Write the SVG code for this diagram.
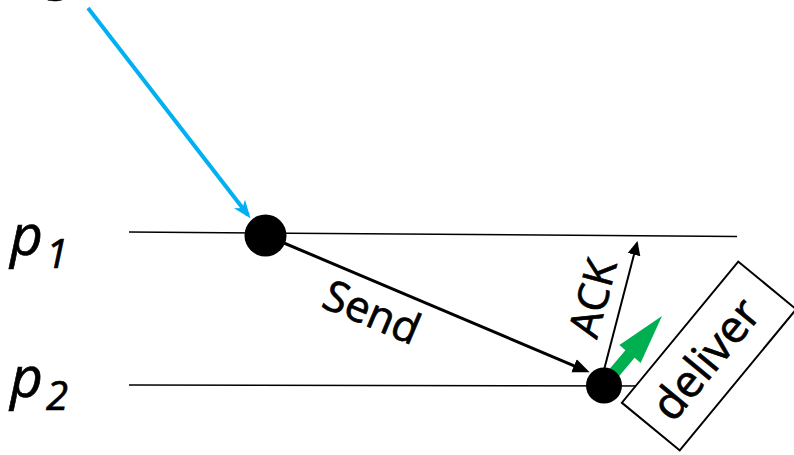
<svg xmlns="http://www.w3.org/2000/svg" width="794" height="455" viewBox="0 0 794 455">
<style>
  text { font-family: "Open Sans", "Liberation Sans", sans-serif; fill: #000; stroke: #000; stroke-width: 0.7; }
  .proc { font-style: italic; font-size: 57px; }
  .sub { font-style: italic; font-size: 40px; }
  .lbl { font-size: 43px; }
  .timeline { stroke: #000; stroke-width: 1.6; fill: none; }
  .event { fill: #000; }
</style>
<defs>
  <marker id="blueHead" markerUnits="userSpaceOnUse" markerWidth="20" markerHeight="16" viewBox="0 0 20 16" refX="14" refY="8" orient="auto">
    <path d="M0,1 L18,8 L0,15 L5,8 z" fill="#00B0F0"/>
  </marker>
  <marker id="sendHead" markerUnits="userSpaceOnUse" markerWidth="18" markerHeight="16" viewBox="0 0 18 16" refX="13" refY="8" orient="auto">
    <path d="M0,1 L17,8 L0,15 z" fill="#000"/>
  </marker>
  <marker id="ackHead" markerUnits="userSpaceOnUse" markerWidth="16" markerHeight="14" viewBox="0 0 16 14" refX="12" refY="7" orient="auto">
    <path d="M0,0.5 L14,7 L0,13.5 z" fill="#000"/>
  </marker>
</defs>

<g id="top-label">
  <text class="proc" x="45" y="-13">g</text>
</g>

<g id="p1">
  <line class="timeline" x1="129" y1="232" x2="737" y2="236.5"/>
  <text class="proc" x="10" y="255">p</text>
  <text class="sub" x="46" y="268">1</text>
</g>
<g id="p2">
  <line class="timeline" x1="129" y1="385" x2="660" y2="386"/>
  <text class="proc" x="10" y="397">p</text>
  <text class="sub" x="46" y="410">2</text>
</g>

<g id="connectors">
  <line x1="88" y1="8" x2="248" y2="215" stroke="#00B0F0" stroke-width="4" marker-end="url(#blueHead)"/>
  <line x1="265" y1="235" x2="586" y2="370.8" stroke="#000" stroke-width="3" marker-end="url(#sendHead)"/>
  <line x1="604" y1="370" x2="637" y2="243" stroke="#000" stroke-width="2" marker-end="url(#ackHead)"/>
  <polygon fill="#00B050" points="599.8,380.6 625.4,350.2 619.4,345 662,316 640.6,363 634.6,357.8 609,388.2"/>
</g>

<g id="send-label">
  <text class="lbl" x="366" y="326" text-anchor="middle" transform="rotate(23 366 326)">Send</text>
</g>
<g id="ack-label">
  <text class="lbl" style="font-size:42px" x="607" y="302" text-anchor="middle" transform="rotate(-75 607 302)">ACK</text>
</g>

<g id="event-send">
  <circle class="event" cx="265.5" cy="235.5" r="21"/>
</g>
<g id="event-recv">
  <circle class="event" cx="604" cy="385.5" r="18"/>
</g>

<g id="deliver">
  <rect x="617.5" y="318.5" width="183" height="75" fill="#fff" stroke="#000" stroke-width="2" transform="rotate(-50.5 709 356)"/>
  <text class="lbl" style="font-size:45px" x="718" y="369" text-anchor="middle" transform="rotate(-50.5 718 369)">deliver</text>
</g>
</svg>
